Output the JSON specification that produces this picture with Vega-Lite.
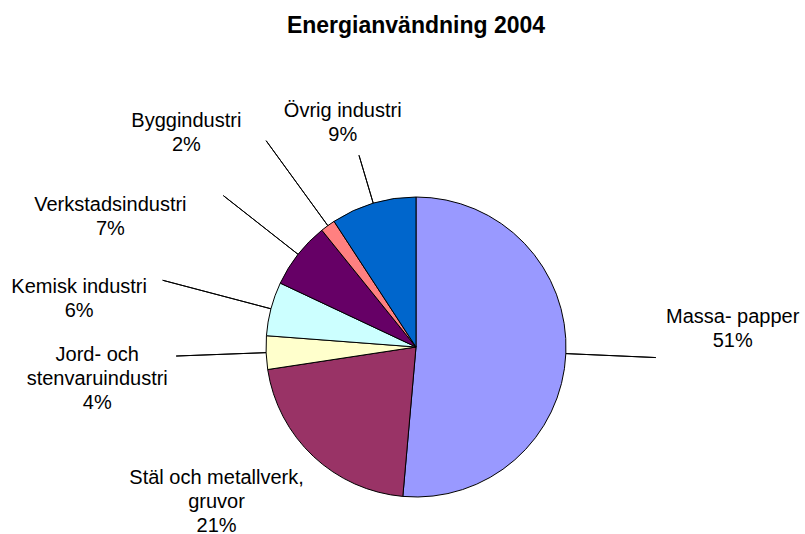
{
  "$schema": "https://vega.github.io/schema/vega-lite/v6.json",
  "width": 778,
  "height": 374,
  "autosize": {"type": "none"},
  "padding": {"left": 27, "top": 160, "right": 0, "bottom": 0},
  "background": "white",
  "config": {"view": {"stroke": null}, "font": "Liberation Sans"},
  "title": {"text": "Energianvändning 2004", "font": "Liberation Sans", "fontSize": 23, "fontWeight": "bold", "color": "black", "anchor": "middle", "frame": "group", "offset": 63},
  "data": {"values": [
    {"name": "Massa- papper", "value": 51.4},
    {"name": "Stäl och metallverk,\ngruvor", "value": 21.2},
    {"name": "Jord- och\nstenvaruindustri", "value": 3.6},
    {"name": "Kemisk industri", "value": 5.8},
    {"name": "Verkstadsindustri", "value": 7.2},
    {"name": "Byggindustri", "value": 1.6},
    {"name": "Övrig industri", "value": 9.2}
  ]},
  "transform": [
    {"stack": "value", "groupby": [], "as": ["start", "end"]},
    {"calculate": "(datum.start + datum.end) / 2", "as": "mid"},
    {"calculate": "datum.name + '\\n' + format(datum.value, '.0f') + '%'", "as": "label"}
  ],
  "layer": [
    {
      "mark": {"type": "arc", "radius": 150, "stroke": "black", "strokeWidth": 1},
      "encoding": {
        "theta": {"field": "start", "type": "quantitative", "scale": {"domain": [0, 100]}},
        "theta2": {"field": "end"},
        "color": {"field": "name", "type": "nominal", "legend": null,
          "scale": {"domain": ["Massa- papper", "Stäl och metallverk,\ngruvor", "Jord- och\nstenvaruindustri", "Kemisk industri", "Verkstadsindustri", "Byggindustri", "Övrig industri"],
                    "range": ["#9999FF", "#993366", "#FFFFCC", "#CCFFFF", "#660066", "#FF8080", "#0066CC"]}}
      }
    },
    {"transform": [{"filter": {"field": "name", "equal": "Massa- papper"}}],
     "mark": {"type": "arc", "radius": 240, "radius2": 150, "fill": null, "stroke": "black", "strokeWidth": 1},
     "encoding": {"theta": {"field": "mid", "type": "quantitative", "scale": {"domain": [0, 100]}}, "theta2": {"field": "mid"}}},
    {"transform": [{"filter": {"field": "name", "equal": "Jord- och\nstenvaruindustri"}}],
     "mark": {"type": "arc", "radius": 240, "radius2": 150, "fill": null, "stroke": "black", "strokeWidth": 1},
     "encoding": {"theta": {"field": "mid", "type": "quantitative", "scale": {"domain": [0, 100]}}, "theta2": {"field": "mid"}}},
    {"transform": [{"filter": {"field": "name", "equal": "Kemisk industri"}}],
     "mark": {"type": "arc", "radius": 262, "radius2": 150, "fill": null, "stroke": "black", "strokeWidth": 1},
     "encoding": {"theta": {"field": "mid", "type": "quantitative", "scale": {"domain": [0, 100]}}, "theta2": {"field": "mid"}}},
    {"transform": [{"filter": {"field": "name", "equal": "Verkstadsindustri"}}],
     "mark": {"type": "arc", "radius": 245, "radius2": 150, "fill": null, "stroke": "black", "strokeWidth": 1},
     "encoding": {"theta": {"field": "mid", "type": "quantitative", "scale": {"domain": [0, 100]}}, "theta2": {"field": "mid"}}},
    {"transform": [{"filter": {"field": "name", "equal": "Byggindustri"}}],
     "mark": {"type": "arc", "radius": 255, "radius2": 150, "fill": null, "stroke": "black", "strokeWidth": 1},
     "encoding": {"theta": {"field": "mid", "type": "quantitative", "scale": {"domain": [0, 100]}}, "theta2": {"field": "mid"}}},
    {"transform": [{"filter": {"field": "name", "equal": "Övrig industri"}}],
     "mark": {"type": "arc", "radius": 200, "radius2": 150, "fill": null, "stroke": "black", "strokeWidth": 1},
     "encoding": {"theta": {"field": "mid", "type": "quantitative", "scale": {"domain": [0, 100]}}, "theta2": {"field": "mid"}}},
    {"transform": [{"filter": {"field": "name", "equal": "Massa- papper"}}],
     "mark": {"type": "text", "radius": 316, "dx": 1, "dy": -44, "align": "center", "baseline": "middle", "fontSize": 20, "lineHeight": 24, "lineBreak": "\n", "color": "black"},
     "encoding": {"theta": {"field": "mid", "type": "quantitative", "stack": false, "scale": {"domain": [0, 100]}}, "text": {"field": "label"}}},
    {"transform": [{"filter": {"field": "name", "equal": "Stäl och metallverk,\ngruvor"}}],
     "mark": {"type": "text", "radius": 249, "dx": -29, "dy": -51, "align": "center", "baseline": "middle", "fontSize": 20, "lineHeight": 24, "lineBreak": "\n", "color": "black"},
     "encoding": {"theta": {"field": "mid", "type": "quantitative", "stack": false, "scale": {"domain": [0, 100]}}, "text": {"field": "label"}}},
    {"transform": [{"filter": {"field": "name", "equal": "Jord- och\nstenvaruindustri"}}],
     "mark": {"type": "text", "radius": 320, "dx": 1, "dy": -4, "align": "center", "baseline": "middle", "fontSize": 20, "lineHeight": 24, "lineBreak": "\n", "color": "black"},
     "encoding": {"theta": {"field": "mid", "type": "quantitative", "stack": false, "scale": {"domain": [0, 100]}}, "text": {"field": "label"}}},
    {"transform": [{"filter": {"field": "name", "equal": "Kemisk industri"}}],
     "mark": {"type": "text", "radius": 338, "dx": -10, "dy": 26, "align": "center", "baseline": "middle", "fontSize": 20, "lineHeight": 24, "lineBreak": "\n", "color": "black"},
     "encoding": {"theta": {"field": "mid", "type": "quantitative", "stack": false, "scale": {"domain": [0, 100]}}, "text": {"field": "label"}}},
    {"transform": [{"filter": {"field": "name", "equal": "Verkstadsindustri"}}],
     "mark": {"type": "text", "radius": 320, "dx": -54, "dy": 56, "align": "center", "baseline": "middle", "fontSize": 20, "lineHeight": 24, "lineBreak": "\n", "color": "black"},
     "encoding": {"theta": {"field": "mid", "type": "quantitative", "stack": false, "scale": {"domain": [0, 100]}}, "text": {"field": "label"}}},
    {"transform": [{"filter": {"field": "name", "equal": "Byggindustri"}}],
     "mark": {"type": "text", "radius": 309, "dx": -48, "dy": 24, "align": "center", "baseline": "middle", "fontSize": 20, "lineHeight": 24, "lineBreak": "\n", "color": "black"},
     "encoding": {"theta": {"field": "mid", "type": "quantitative", "stack": false, "scale": {"domain": [0, 100]}}, "text": {"field": "label"}}},
    {"transform": [{"filter": {"field": "name", "equal": "Övrig industri"}}],
     "mark": {"type": "text", "radius": 236, "dx": -6, "dy": -10, "align": "center", "baseline": "middle", "fontSize": 20, "lineHeight": 24, "lineBreak": "\n", "color": "black"},
     "encoding": {"theta": {"field": "mid", "type": "quantitative", "stack": false, "scale": {"domain": [0, 100]}}, "text": {"field": "label"}}}
  ]
}
